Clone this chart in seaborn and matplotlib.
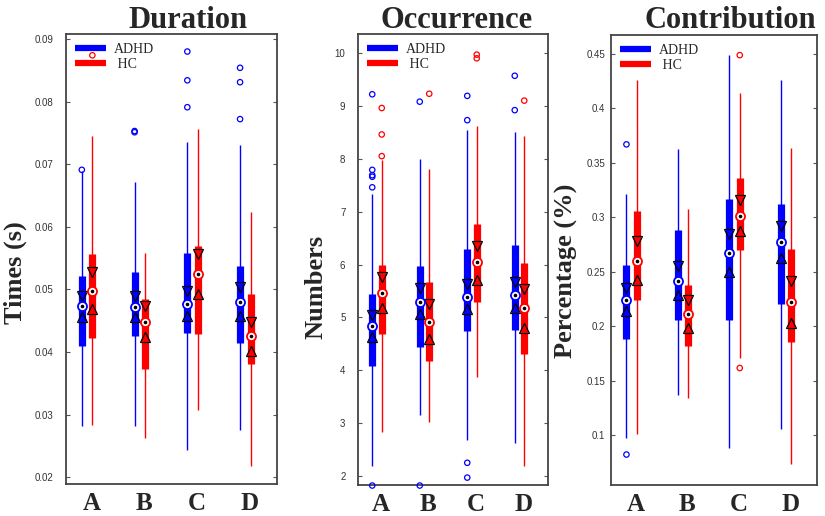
import numpy as np
import pandas as pd
import matplotlib
matplotlib.use("Agg")
import matplotlib.pyplot as plt
from matplotlib.lines import Line2D
from matplotlib.ticker import FormatStrFormatter
import seaborn as sns

categories = ["A", "B", "C", "D"]
groups = ["ADHD", "HC"]
colors = {"ADHD": "#0000ff", "HC": "#ff0000"}

# each row: whisker low, q1, notch low, median, notch high, q3, whisker high
cols = ["wlo", "q1", "nlo", "med", "nhi", "q3", "whi"]

# Duration
dur_adhd = [
    [0.0282, 0.0409, 0.0456, 0.0473, 0.0490, 0.0521, 0.0689],
    [0.0281, 0.0425, 0.0456, 0.0472, 0.0489, 0.0527, 0.0671],
    [0.0244, 0.0431, 0.0457, 0.0477, 0.0497, 0.0558, 0.0735],
    [0.0276, 0.0415, 0.0457, 0.0480, 0.0503, 0.0537, 0.0730],
]
dur_hc = [
    [0.0284, 0.0423, 0.0468, 0.0497, 0.0527, 0.0556, 0.0745],
    [0.0263, 0.0372, 0.0424, 0.0448, 0.0473, 0.0484, 0.0558],
    [0.0308, 0.0428, 0.0493, 0.0524, 0.0557, 0.0569, 0.0756],
    [0.0218, 0.0381, 0.0401, 0.0425, 0.0448, 0.0492, 0.0623],
]
dur_adhd_out = [[0.0691], [0.0751, 0.0753], [0.0880, 0.0834, 0.0791], [0.0854, 0.0831, 0.0772]]
dur_hc_out = [[0.0874], [], [], []]
dur_ticks = [0.02, 0.03, 0.04, 0.05, 0.06, 0.07, 0.08, 0.09]

# Occurrence
occ_adhd = [
    [2.18, 4.09, 4.63, 4.83, 5.04, 5.45, 7.34],
    [3.16, 4.44, 5.06, 5.29, 5.56, 5.97, 7.99],
    [2.69, 4.74, 5.15, 5.39, 5.64, 6.30, 8.55],
    [2.62, 4.77, 5.18, 5.43, 5.67, 6.36, 8.51],
]
occ_hc = [
    [2.83, 4.68, 5.18, 5.46, 5.76, 5.99, 7.98],
    [3.02, 4.18, 4.60, 4.92, 5.25, 5.66, 7.80],
    [3.87, 5.29, 5.71, 6.04, 6.35, 6.76, 8.62],
    [2.19, 4.31, 4.80, 5.18, 5.54, 6.03, 8.43],
]
occ_adhd_out = [[9.22, 7.79, 7.69, 7.66, 7.46, 1.82], [9.08, 1.82], [9.19, 8.73, 2.25, 1.97], [9.57, 8.92]]
occ_hc_out = [[8.96, 8.46, 8.05], [9.23], [9.97, 9.90], [9.10]]
occ_ticks = [2, 3, 4, 5, 6, 7, 8, 9, 10]

# Contribution
con_adhd = [
    [0.097, 0.188, 0.214, 0.224, 0.235, 0.256, 0.321],
    [0.137, 0.206, 0.229, 0.241, 0.255, 0.288, 0.363],
    [0.088, 0.206, 0.250, 0.267, 0.285, 0.317, 0.449],
    [0.105, 0.220, 0.263, 0.277, 0.292, 0.312, 0.426],
]
con_hc = [
    [0.101, 0.224, 0.242, 0.260, 0.278, 0.306, 0.426],
    [0.134, 0.182, 0.198, 0.211, 0.224, 0.238, 0.308],
    [0.171, 0.270, 0.287, 0.301, 0.316, 0.336, 0.414],
    [0.073, 0.185, 0.203, 0.222, 0.241, 0.271, 0.364],
]
con_adhd_out = [[0.367, 0.082], [], [], []]
con_hc_out = [[], [], [0.449, 0.1615], []]
con_ticks = [0.1, 0.15, 0.2, 0.25, 0.3, 0.35, 0.4, 0.45]

sns.set_style("ticks")
plt.rcParams["font.family"] = ["Liberation Serif", "DejaVu Serif"]

offset = {"ADHD": -0.1, "HC": 0.1}


def stats_frame(adhd, hc):
    rows = []
    for g, table in zip(groups, [adhd, hc]):
        for i, row in enumerate(table):
            r = dict(zip(cols, row))
            r["category"] = i + 1
            r["group"] = g
            rows.append(r)
    df = pd.DataFrame(rows)
    df["x"] = df["category"] + df["group"].map(offset)
    return df


def outlier_frame(adhd_out, hc_out):
    rows = []
    for g, lists in zip(groups, [adhd_out, hc_out]):
        for i, vals in enumerate(lists):
            for v in vals:
                rows.append({"x": i + 1 + offset[g], "y": v, "group": g})
    return pd.DataFrame(rows, columns=["x", "y", "group"])


panels = [
    ("Duration", "Times (s)", dur_adhd, dur_hc, dur_adhd_out, dur_hc_out,
     (0.0189, 0.0908), dur_ticks),
    ("Occurrence", "Numbers", occ_adhd, occ_hc, occ_adhd_out, occ_hc_out,
     (1.83, 10.36), occ_ticks),
    ("Contribution", "Percentage (%)", con_adhd, con_hc, con_adhd_out, con_hc_out,
     (0.054, 0.4675), con_ticks),
]

# axes boxes in figure fractions
boxes = [
    [66 / 825, 32 / 516, 211 / 825, 450 / 516],
    [358 / 825, 31 / 516, 190 / 825, 451 / 516],
    [611 / 825, 31 / 516, 206 / 825, 450 / 516],
]
title_x = [188 / 825, 457 / 825, 730 / 825]
ylabel_x = [-0.185, -0.163, -0.16]
ylabel_y = [0.47, 0.44, 0.476]
tick_pad = [9, 9, 4]

fig = plt.figure(figsize=(8.25, 5.16), dpi=100)

for k, (title, ylab, adhd, hc, adhd_out, hc_out, ylim, ticks) in enumerate(panels):
    ax = fig.add_axes(boxes[k])
    st = stats_frame(adhd, hc)
    outs = outlier_frame(adhd_out, hc_out)

    for g, sub in st.groupby("group"):
        c = colors[g]
        ax.vlines(sub["x"], sub["wlo"], sub["whi"], color=c, lw=1.0, zorder=2)
        ax.vlines(sub["x"], sub["q1"], sub["q3"], color=c, lw=5.2, zorder=3)
        ax.plot(sub["x"], sub["nhi"], "v", mfc="none", mec="black", ms=7.5, mew=0.9, zorder=4)
        ax.plot(sub["x"], sub["nlo"], "^", mfc="none", mec="black", ms=7.5, mew=0.9, zorder=4)
        ax.plot(sub["x"], sub["med"], "o", mfc="white", mec=c, ms=6.5, mew=1.3, zorder=5)
        ax.plot(sub["x"], sub["med"], "o", color="black", ms=1.6, zorder=6)

    for g, sub in outs.groupby("group"):
        sns.scatterplot(data=sub, x="x", y="y", ax=ax, marker="o", s=15,
                        facecolor="none", edgecolor=colors[g], linewidth=0.9,
                        zorder=5, clip_on=False, legend=False)

    ax.set_xlim(0.6, 4.6)
    ax.set_ylim(*ylim)
    ax.set_xticks([1.08, 2.08, 3.08, 4.08])
    ax.set_xticklabels(categories, fontsize=18, fontweight="bold")
    ax.set_yticks(ticks)
    ax.yaxis.set_major_formatter(FormatStrFormatter("%g"))
    ax.tick_params(axis="y", direction="in", length=3, width=0.8, left=True, right=True,
                   labelsize=7, labelcolor="#333333", pad=tick_pad[k], color="#555555")
    ax.tick_params(axis="x", length=0, pad=6)
    for lab in ax.get_yticklabels():
        lab.set_family("Liberation Sans")
    for s in ax.spines.values():
        s.set_visible(True)
        s.set_color("#444444")
        s.set_linewidth(1.3)
    ax.set_xlabel("")
    ax.set_ylabel(ylab, fontsize=19, fontweight="bold")
    ax.yaxis.set_label_coords(ylabel_x[k], ylabel_y[k])

    handles = [Line2D([0], [0], color=colors["ADHD"], lw=4.5, solid_capstyle="butt"),
               Line2D([0], [0], color=colors["HC"], lw=4.5, solid_capstyle="butt")]
    ax.legend(handles, ["ADHD", " HC"], loc="upper left", frameon=False,
              fontsize=10, handlelength=2.2, handletextpad=0.6,
              borderaxespad=0.25, labelspacing=0.15)

    fig.text(title_x[k], 1 - 20 / 516, title, ha="center", va="center",
             fontsize=22, fontweight="bold")

fig.savefig("out.png", dpi=100)
